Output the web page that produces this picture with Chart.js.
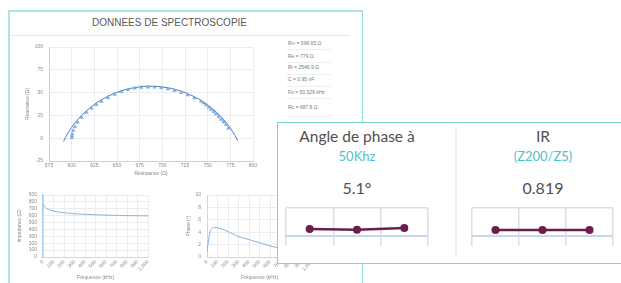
<!DOCTYPE html>
<html>
<head>
<meta charset="utf-8">
<script src="https://cdn.jsdelivr.net/npm/chart.js@4.4.0/dist/chart.umd.min.js"></script>
<style>
html, body { margin: 0; padding: 0; width: 621px; height: 283px; overflow: hidden; background: #fff; }
.abs { position: absolute; }
#panel { left: 8px; top: 10px; width: 355px; height: 300px; box-sizing: border-box;
  border-left: 2px solid #aee3e3; border-top: 2px solid #aee3e3; border-right: 1.5px solid #8fd8d8; }
#titre { left: 0; top: 18px; width: 339px; text-align: center; font: 10px/10px "Liberation Sans", Arial, sans-serif; color: #595959; }
.sep { height: 1px; background: #e6e6e6; }
.stat { left: 288px; font: 5px/6px "Liberation Sans", Arial, sans-serif; color: #7a7a7a; white-space: nowrap; }
#card { left: 277px; top: 122px; width: 400px; height: 142px; box-sizing: border-box; background: #fff;
  border: 1.5px solid #7cd3d3; }
#divider { left: 455px; top: 127px; width: 2px; height: 130px; background: #ececec; }
.lbl { width: 160px; text-align: center; font-family: Lato, "Open Sans", sans-serif; white-space: nowrap; }
.big { font-size: 15.5px; line-height: 15.5px; color: #505050; }
.sub { font-size: 13px; line-height: 13px; color: #4fc2c6; }
.val { font-size: 16px; line-height: 16px; color: #505050; }
</style>
</head>
<body>
<div id="panel" class="abs"></div>
<div id="titre" class="abs">DONNEES DE SPECTROSCOPIE</div>
<div class="abs sep" style="left:12px; top:35px; width:338px;"></div>
<div id="stats"></div>

<canvas id="nyq" class="abs" width="250" height="145" style="left:10px; top:38px;"></canvas>
<canvas id="imp" class="abs" width="145" height="97" style="left:12px; top:186px;"></canvas>
<canvas id="pha" class="abs" width="145" height="97" style="left:180px; top:186px;"></canvas>

<div id="card" class="abs"></div>
<div id="divider" class="abs"></div>
<div class="abs lbl big" style="left:277px; top:129px;">Angle de phase à</div>
<div class="abs lbl sub" style="left:277px; top:149.5px;">50Khz</div>
<div class="abs lbl val" style="left:277px; top:180px;">5.1°</div>
<div class="abs lbl big" style="left:463px; top:129px;">IR</div>
<div class="abs lbl sub" style="left:463px; top:149.5px;">(Z200/Z5)</div>
<div class="abs lbl val" style="left:463px; top:180px;">0.819</div>
<canvas id="miniPhase" class="abs" width="155" height="50" style="left:280px; top:200px;"></canvas>
<canvas id="miniIR" class="abs" width="155" height="50" style="left:466px; top:200px;"></canvas>

<script>
// paramètres du modèle
const statLabels = ["R∞ = 596.65 Ω", "Re = 779 Ω", "Ri = 2546.9 Ω", "C = 0.95 nF", "Fo = 50.529 kHz", "Rc = 687.8 Ω"];

// Nyquist : mesures (triangles)
const mesRe = [600.3, 600.3, 600.5, 601.7, 603.6, 606.5, 610.9, 616.4, 621.9, 627.4, 632.9, 640.2, 647.5, 654.8,
  662.1, 669.5, 676.8, 684.1, 691.5, 698.8, 706.1, 713.4, 720.7, 728.0, 735.4, 742.7, 745.5, 748.2, 751.0,
  753.7, 756.5, 759.2, 762.0, 764.7, 767.5, 770.2, 772.7];
const mesIm = [0.5, 2.5, 4.6, 8.5, 12.5, 17.5, 22.8, 28.3, 32.8, 36.6, 40.2, 44.2, 47.8, 51.0,
  53.2, 54.8, 55.7, 56.0, 55.9, 55.3, 54.0, 52.2, 50.0, 47.3, 44.0, 40.5, 38.5, 36.5, 34.0,
  31.5, 29.0, 26.5, 23.5, 20.5, 17.8, 15.0, 11.0];
// Nyquist : courbe ajustée
const fitRe = [591, 595, 600, 605, 610, 620, 630, 640, 650, 660, 670, 680, 690, 700, 710, 720, 730, 740, 750, 760, 770, 775, 780, 783];
const fitIm = [-3.4, 4.1, 11.9, 18.4, 24.0, 33.2, 40.4, 46.0, 50.3, 53.5, 55.6, 56.8, 57.0, 56.2, 54.5, 51.8, 48.0, 43.0, 36.6, 28.3, 17.7, 11.0, 3.1, -2.6];

// impédance et phase en fonction de la fréquence
const freqImp = [0, 10, 25, 50, 100, 150, 200, 300, 400, 500, 600, 700, 800, 900, 1000];
const impedance = [780, 745, 715, 690, 668, 652, 642, 628, 620, 613, 608, 604, 601, 599, 597];
const freqPha = [0, 15, 30, 50, 75, 125, 200, 300, 400, 500, 600, 700, 800, 900, 1000];
const phase = [0.8, 2.8, 4.1, 4.6, 4.75, 4.6, 4.1, 3.3, 2.8, 2.3, 1.8, 1.4, 1.1, 0.9, 0.7];

// historiques des cartes
const mesures = ["M1", "M2", "M3"];
const histPhase = [4.5, 4.0, 5.1];
const histIR = [0.82, 0.818, 0.819];

const stats = document.getElementById("stats");
const statY = [43.3, 55.7, 67, 79.3, 91.7, 106.7];
const sepY = [48.5, 61.5, 73.5, 85.5, 97.5, 115.5];
statLabels.forEach((t, i) => {
    stats.insertAdjacentHTML("beforeend",
        `<div class="abs stat" style="top:${statY[i] - 3}px">${t}</div>` +
        `<div class="abs sep" style="left:286px; width:45px; top:${sepY[i]}px; background:#efefef"></div>`);
});

const tiny = { family: "Liberation Sans", size: 5 };
const gris = "#8a8a8a";

function pts(xs, ys) {
    return xs.map((x, i) => ({ x: x, y: ys[i] }));
}

function axe(opts) {
    return {
        type: "linear",
        min: opts.min,
        max: opts.max,
        ticks: { stepSize: opts.step, font: tiny, color: gris, padding: opts.pad, autoSkip: false,
            minRotation: opts.rot || 0, maxRotation: opts.rot || 0 },
        grid: { color: "#ececec", drawTicks: false },
        border: { color: opts.border || "#d6d6d6", width: opts.bw || 1 },
        title: { display: true, text: opts.title, font: tiny, color: gris, padding: opts.tpad },
        afterFit: opts.fit
    };
}

const base = {
    responsive: false,
    animation: false,
    events: [],
    plugins: { legend: { display: false }, tooltip: { enabled: false } }
};

new Chart(document.getElementById("nyq"), {
    type: "scatter",
    data: {
        datasets: [{
            data: pts(mesRe, mesIm),
            pointStyle: "triangle",
            pointRadius: 2,
            backgroundColor: "#78acdf",
            borderColor: "#78acdf",
            borderWidth: 0.5,
            showLine: false
        }, {
            data: pts(fitRe, fitIm),
            showLine: true,
            pointRadius: 0,
            borderColor: "#4a76c4",
            borderWidth: 1,
            tension: 0.3
        }]
    },
    options: Object.assign({}, base, {
        layout: { padding: { top: 5, right: 7, left: 0, bottom: 0 } },
        scales: {
            x: axe({ min: 575, max: 800, step: 25, pad: 2, title: "Résistance (Ω)", border: "#c3d3ea",
                tpad: { top: 0, bottom: 6 }, fit: s => { s.height = 22; } }),
            y: axe({ min: -25, max: 100, step: 25, pad: 6, title: "Réactance (Ω)", border: "#c3d3ea",
                tpad: { top: 15, bottom: 0 }, fit: s => { s.width = 39; } })
        }
    })
});

new Chart(document.getElementById("imp"), {
    type: "scatter",
    data: {
        datasets: [{
            data: pts(freqImp, impedance),
            showLine: true,
            pointRadius: 0,
            borderColor: "#7db4e6",
            borderWidth: 1,
            tension: 0.4
        }]
    },
    options: Object.assign({}, base, {
        layout: { padding: { top: 5, right: 9, left: 0, bottom: 0 } },
        scales: {
            x: axe({ min: 0, max: 1000, step: 100, pad: 2, rot: 45, title: "Fréquence (kHz)",
                tpad: { top: 0, bottom: 2.5 }, fit: s => { s.height = 26; } }),
            y: axe({ min: 0, max: 900, step: 100, pad: 6, title: "Impédance (Ω)", border: "#a8ccee", bw: 1.5,
                tpad: { top: 5, bottom: 0 }, fit: s => { s.width = 31; } })
        }
    })
});

new Chart(document.getElementById("pha"), {
    type: "scatter",
    data: {
        datasets: [{
            data: pts(freqPha, phase),
            showLine: true,
            pointRadius: 0,
            borderColor: "#7db4e6",
            borderWidth: 1,
            tension: 0.4
        }]
    },
    options: Object.assign({}, base, {
        layout: { padding: { top: 6, right: 13, left: 0, bottom: 0 } },
        scales: {
            x: axe({ min: 0, max: 1000, step: 100, pad: 2, rot: 45, title: "Fréquence (kHz)",
                tpad: { top: 0, bottom: 2.5 }, fit: s => { s.height = 26; } }),
            y: axe({ min: 0, max: 10, step: 2, pad: 6, title: "Phase (°)",
                tpad: { top: 6, bottom: 0 }, fit: s => { s.width = 27; } })
        }
    })
});

function mini(id, values, max, padRight) {
    new Chart(document.getElementById(id), {
        type: "line",
        data: {
            labels: mesures,
            datasets: [{
                data: values,
                borderColor: "#6b1d4d",
                backgroundColor: "#6b1d4d",
                borderWidth: 2.5,
                pointRadius: 4,
                pointBorderWidth: 0
            }]
        },
        options: Object.assign({}, base, {
            layout: { padding: { top: 8, right: padRight, left: 6, bottom: 4 } },
            scales: {
                x: {
                    offset: true,
                    ticks: { display: false },
                    grid: { offset: true, color: "#dedede", lineWidth: 1.5, tickLength: 10 },
                    border: { color: "#c7d6ee", width: 2 }
                },
                y: {
                    min: 0,
                    max: max,
                    ticks: { display: false, stepSize: max },
                    grid: { color: "#dedede", lineWidth: 1.5, drawTicks: false },
                    border: { display: false }
                }
            }
        })
    });
}

mini("miniPhase", histPhase, 18, 7);
mini("miniIR", histIR, 3.8, 8);
</script>
</body>
</html>
